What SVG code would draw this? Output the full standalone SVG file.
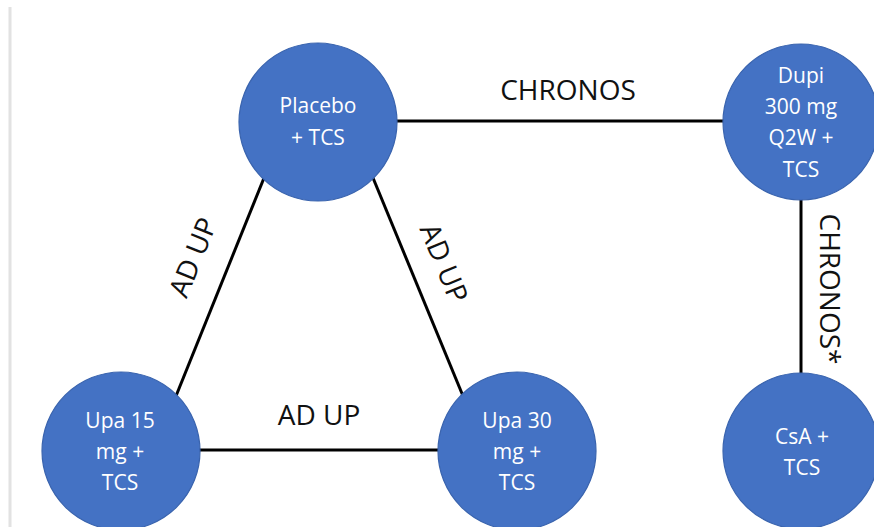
<svg xmlns="http://www.w3.org/2000/svg" width="874" height="527" viewBox="0 0 874 527">
<style>
.node{fill:#4472C4;stroke:#3A64AE;stroke-width:1.2}
.nt{font-family:"Open Sans","Liberation Sans",sans-serif;font-size:21px;fill:#ffffff;text-anchor:middle}
.edge{stroke:#000;stroke-width:3;fill:none}
.lbl{font-family:"Open Sans","Liberation Sans",sans-serif;font-size:28px;fill:#111;text-anchor:middle}
</style>
<rect width="874" height="527" fill="#ffffff"/>
<line x1="10" y1="7" x2="10" y2="527" stroke="#e2e2e2" stroke-width="3"/>
<g id="connectors">
<line class="edge" x1="396" y1="121" x2="724" y2="121"/>
<line class="edge" x1="801" y1="198" x2="801" y2="373"/>
<line class="edge" x1="266" y1="173" x2="176" y2="396"/>
<line class="edge" x1="371" y1="173" x2="463" y2="396"/>
<line class="edge" x1="199" y1="450" x2="438" y2="450"/>
<text class="lbl" x="568" y="100">CHRONOS</text>
<text class="lbl" x="319" y="425">AD UP</text>
<text class="lbl" transform="translate(202,261) rotate(-68)">AD UP</text>
<text class="lbl" transform="translate(435,267) rotate(67.5)">AD UP</text>
<text class="lbl" transform="translate(820,289) rotate(90)">CHRONOS*</text>
</g>
<g id="placebo">
<circle class="node" cx="318" cy="122" r="79"/>
<text class="nt" x="318" y="113">Placebo</text>
<text class="nt" x="318" y="145">+ TCS</text>
</g>
<g id="dupi">
<circle class="node" cx="801" cy="122" r="78"/>
<text class="nt" x="801" y="83">Dupi</text>
<text class="nt" x="801" y="114">300 mg</text>
<text class="nt" x="801" y="145">Q2W +</text>
<text class="nt" x="801" y="177">TCS</text>
</g>
<g id="upa15">
<circle class="node" cx="121" cy="451" r="79"/>
<text class="nt" x="120" y="428">Upa 15</text>
<text class="nt" x="120" y="459">mg +</text>
<text class="nt" x="120" y="490">TCS</text>
</g>
<g id="upa30">
<circle class="node" cx="517" cy="451" r="79"/>
<text class="nt" x="517" y="428">Upa 30</text>
<text class="nt" x="517" y="459">mg +</text>
<text class="nt" x="517" y="490">TCS</text>
</g>
<g id="csa">
<circle class="node" cx="801" cy="451" r="78"/>
<text class="nt" x="802" y="444">CsA +</text>
<text class="nt" x="802" y="475">TCS</text>
</g>
</svg>
